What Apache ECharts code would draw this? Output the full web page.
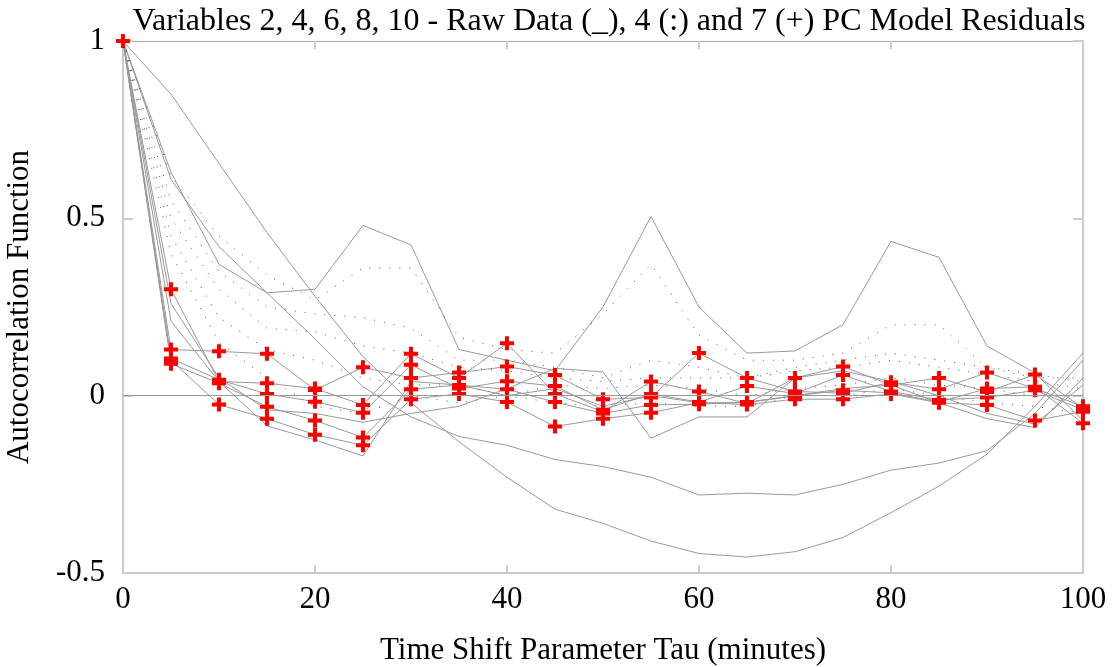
<!DOCTYPE html>
<html><head><meta charset="utf-8">
<script src="https://cdn.jsdelivr.net/npm/echarts@6/dist/echarts.min.js"></script>
<style>html,body{margin:0;padding:0;background:#fff}#c{width:1115px;height:667px}</style>
</head><body><div id="c"></div>
<script>
const title = 'Variables 2, 4, 6, 8, 10 - Raw Data (_), 4 (:) and 7 (+) PC Model Residuals';
const xName = 'Time Shift Parameter Tau (minutes)';
const yName = 'Autocorrelation Function';
const taus = [0,5,10,15,20,25,30,35,40,45,50,55,60,65,70,75,80,85,90,95,100];

// Raw data (solid)
const raw1 = [1,0.85,0.655,0.46,0.28,0.11,-0.02,-0.13,-0.23,-0.32,-0.36,-0.41,-0.445,-0.455,-0.44,-0.4,-0.33,-0.255,-0.165,-0.03,0.12];
const raw2 = [1,0.63,0.37,0.29,0.30,0.48,0.425,0.13,0.10,0.07,0.25,0.505,0.25,0.12,0.126,0.20,0.435,0.39,0.14,0.064,-0.07];
const raw3 = [1,0.61,0.42,0.29,0.16,0.025,-0.06,-0.115,-0.14,-0.18,-0.20,-0.23,-0.28,-0.275,-0.28,-0.25,-0.21,-0.19,-0.155,-0.05,0.10];
const raw4 = [1,0.26,0.05,-0.04,-0.05,-0.075,-0.05,-0.03,0.02,0.077,0.067,-0.12,-0.06,-0.06,0.05,0.07,0.04,0.0,-0.05,-0.08,0.03];
const raw5 = [1,0.21,0.04,-0.085,-0.125,-0.17,0.04,0.03,0.0,0.02,-0.03,0.0,-0.02,-0.02,0.0,0.02,0.03,-0.02,-0.065,-0.09,0.05];

// 4 PC model residuals (dotted)
const pc4a = [1,0.62,0.45,0.34,0.27,0.36,0.36,0.165,0.13,0.12,0.23,0.37,0.17,0.1,0.1,0.12,0.2,0.2,0.08,0.06,0.04];
const pc4b = [1,0.55,0.35,0.25,0.23,0.22,0.19,0.1,0.1,0.08,0.05,0.1,0.08,0.05,0.08,0.1,0.12,0.1,0.08,0.05,0.05];
const pc4c = [1,0.5,0.3,0.19,0.18,0.14,0.12,0.08,0.07,0.05,0.04,0.05,0.05,0.05,0.07,0.08,0.1,0.08,0.06,0.04,0.02];
const pc4d = [1,0.45,0.22,0.13,0.1,0.05,0.03,0.03,0.0,0.03,0.02,0.03,0.02,0.0,0.02,0.03,0.05,0.03,0.02,0.0,0.0];
const pc4e = [1,0.4,0.15,0.05,-0.03,-0.05,0.0,-0.02,0.0,-0.02,-0.03,-0.02,-0.03,-0.03,0.0,0.0,0.02,0.0,-0.02,-0.03,-0.05];

// 7 PC model residuals (+)
const pc7a = [1,0.30,0.04,0.035,0.02,-0.026,0.118,0.05,0.148,0.005,-0.045,0.04,0.012,-0.022,0.05,0.082,0.03,0.05,0.01,0.06,-0.035];
const pc7b = [1,0.13,0.125,0.118,0.016,0.08,0.05,0.065,0.082,0.058,-0.01,-0.005,0.12,0.05,0.012,0.007,0.038,0.018,0.065,0.02,-0.03];
const pc7c = [1,0.105,0.045,0.005,-0.017,-0.048,0.087,0.02,0.041,0.027,-0.04,0.005,-0.018,0.027,0.006,0.058,0.012,-0.012,-0.005,0.015,-0.04];
const pc7d = [1,0.09,0.035,-0.031,-0.07,-0.118,0.018,0.03,0.018,-0.018,-0.05,-0.026,-0.024,-0.018,0.0,0.015,0.008,-0.018,0.02,0.025,-0.078];
const pc7e = [1,0.10,-0.025,-0.065,-0.11,-0.14,-0.01,0.005,-0.018,-0.087,-0.065,-0.048,-0.02,-0.025,-0.01,-0.01,0.005,-0.02,-0.026,-0.07,-0.045];

const rawSets = [raw1, raw2, raw3, raw4, raw5];
const pc4Sets = [pc4a, pc4b, pc4c, pc4d, pc4e];
const pc7Sets = [pc7a, pc7b, pc7c, pc7d, pc7e];

const pair = arr => taus.map((t, i) => [t, arr[i]]);
const plusPath = 'path://M0,5H14V9H0Z M5,0H9V14H5Z';
const font = 'Liberation Serif';

const series = [];
rawSets.forEach((d, k) => series.push({
  type: 'line', data: pair(d), symbol: 'none', silent: true,
  lineStyle: {color: '#999', width: 1},
  markLine: k === 0 ? {silent: true, symbol: 'none', label: {show: false},
    lineStyle: {color: '#999', width: 1, type: 'solid'}, data: [{yAxis: 0}]} : undefined
}));
pc4Sets.forEach(d => series.push({
  type: 'line', data: pair(d), symbol: 'none', silent: true,
  lineStyle: {color: '#555', width: 1, type: [1, 9]}
}));
pc7Sets.forEach(d => series.push({
  type: 'line', data: pair(d), symbol: plusPath, symbolSize: 14, showAllSymbol: true, silent: true,
  lineStyle: {color: '#999', width: 1},
  itemStyle: {color: '#ff0000', borderWidth: 0}
}));

const chart = echarts.init(document.getElementById('c'), null, {renderer: 'canvas'});
chart.setOption({
  animation: false,
  backgroundColor: '#fff',
  title: {text: title, left: 604, top: 1, textAlign: 'center',
    textStyle: {fontFamily: font, fontSize: 32, fontWeight: 'normal', color: '#000'}},
  grid: {left: 123, right: 32, top: 41, bottom: 94, containLabel: false, outerBoundsMode: 'none'},
  xAxis: [
    {type: 'value', min: 0, max: 100, interval: 20, position: 'bottom',
     name: xName, nameLocation: 'middle', nameGap: 62,
     nameTextStyle: {fontFamily: font, fontSize: 31, color: '#000'},
     axisLine: {show: true, onZero: false, lineStyle: {color: '#ccc', width: 2}},
     axisTick: {show: true, inside: true, length: 8, lineStyle: {color: '#ccc', width: 2}},
     axisLabel: {fontFamily: font, fontSize: 31, color: '#000', margin: 11},
     splitLine: {show: false}},
    {type: 'value', min: 0, max: 100, interval: 20, position: 'top',
     axisLine: {show: true, onZero: false, lineStyle: {color: '#aaa', width: 1}},
     axisTick: {show: true, inside: true, length: 8, lineStyle: {color: '#ccc', width: 2}},
     axisLabel: {show: false}, splitLine: {show: false}}
  ],
  yAxis: [
    {type: 'value', min: -0.5, max: 1, interval: 0.5, position: 'left',
     name: yName, nameLocation: 'middle', nameGap: 88, nameRotate: 90,
     nameTextStyle: {fontFamily: font, fontSize: 31, color: '#000'},
     axisLine: {show: true, onZero: false, lineStyle: {color: '#ccc', width: 2}},
     axisTick: {show: true, inside: true, length: 10, lineStyle: {color: '#ccc', width: 2}},
     axisLabel: {fontFamily: font, fontSize: 31, color: '#000', margin: 18,
       formatter: v => String(v)},
     splitLine: {show: false}},
    {type: 'value', min: -0.5, max: 1, interval: 0.5, position: 'right',
     axisLine: {show: true, onZero: false, lineStyle: {color: '#ccc', width: 2}},
     axisTick: {show: true, inside: true, length: 10, lineStyle: {color: '#ccc', width: 2}},
     axisLabel: {show: false}, splitLine: {show: false}}
  ],
  series: series
});
</script>
</body></html>
